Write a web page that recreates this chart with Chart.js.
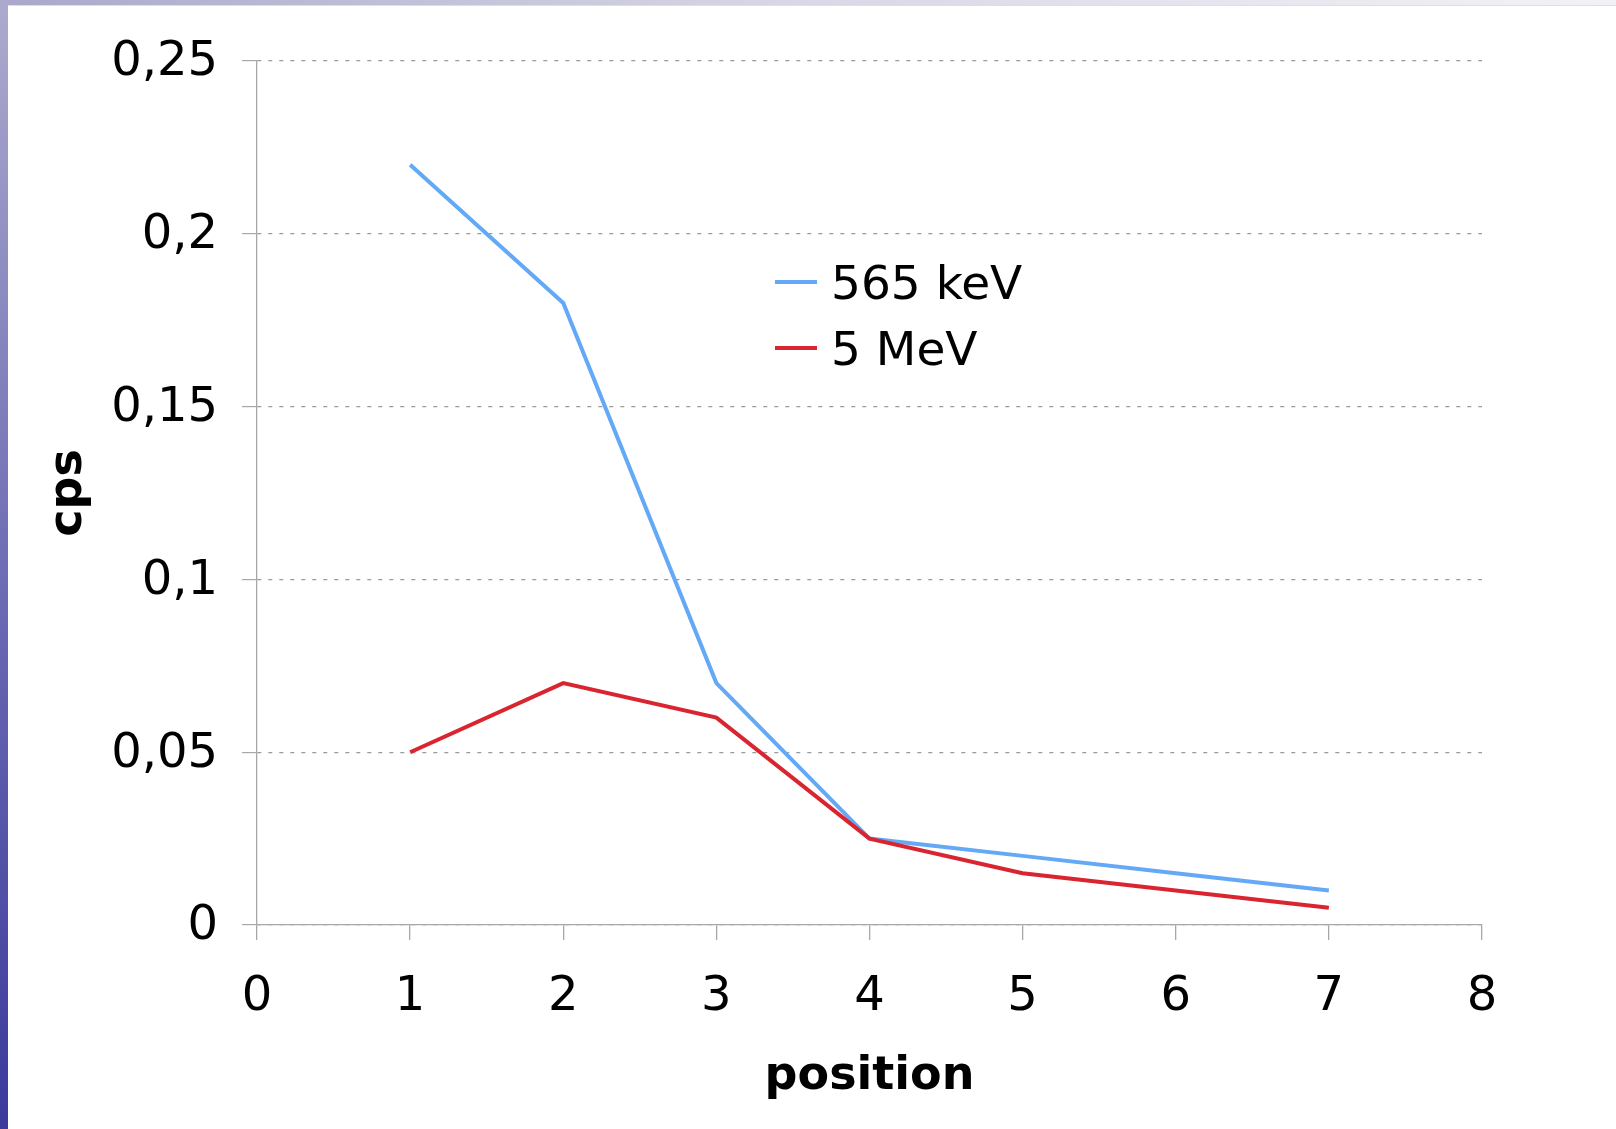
<!DOCTYPE html>
<html>
<head>
<meta charset="utf-8">
<script src="https://cdn.jsdelivr.net/npm/chart.js@4.4.1/dist/chart.umd.min.js"></script>
<style>
  html, body { margin: 0; padding: 0; background: #fff; }
  #wrap { position: relative; width: 1616px; height: 1129px; overflow: hidden; }
  #topbar { position: absolute; left: 0; top: 0; width: 1616px; height: 5px;
    background: linear-gradient(to right, #a9a8ca, #d8d8e6 50%, #f2f2f6);
    border-bottom: 1px solid #dedee6; }
  #leftbar { position: absolute; left: 0; top: 0; width: 8px; height: 1129px;
    background: linear-gradient(to bottom, #acabcd, #6f6db4 50%, #3b399b); }
  #chart { position: absolute; left: 0; top: 0; }
</style>
</head>
<body>
<div id="wrap">
  <div id="topbar"></div>
  <div id="leftbar"></div>
  <canvas id="chart" width="1616" height="1129"></canvas>
</div>
<script>
// data
var positions = [1, 2, 3, 4, 5, 6, 7];
var cps565keV = [0.22, 0.18, 0.07, 0.025, 0.02, 0.015, 0.01];
var cps5MeV = [0.05, 0.07, 0.06, 0.025, 0.015, 0.01, 0.005];
var seriesNames = ['565 keV', '5 MeV'];
var seriesColors = ['#64a9f6', '#d9252f'];
var yTickLabels = ['0', '0,05', '0,1', '0,15', '0,2', '0,25'];
var xTickLabels = ['0', '1', '2', '3', '4', '5', '6', '7', '8'];

var FONT = '"DejaVu Sans", Verdana, sans-serif';

function toPoints(xs, ys) {
	var out = [];
	for (var i in xs) {
		out.push({x: xs[i], y: ys[i]});
	}
	return out;
}

// legend drawn inside the plot, like the original
var innerLegend = {
	id: 'innerLegend',
	afterDraw: function(chart) {
		var ctx = chart.ctx;
		ctx.save();
		ctx.font = '47px ' + FONT;
		ctx.textBaseline = 'middle';
		ctx.fillStyle = '#000';
		var x0 = 775, rows = [282, 348];
		for (var i = 0; i < seriesNames.length; i++) {
			ctx.strokeStyle = seriesColors[i];
			ctx.lineWidth = 4;
			ctx.beginPath();
			ctx.moveTo(x0, rows[i]);
			ctx.lineTo(x0 + 42, rows[i]);
			ctx.stroke();
			ctx.fillText(seriesNames[i], x0 + 56, rows[i] + 5);
		}
		ctx.restore();
	}
};

var ctx = document.getElementById('chart');
var myChart = new Chart(ctx, {
	type: 'line',
	data: {
		datasets: [{
			label: seriesNames[0],
			data: toPoints(positions, cps565keV),
			borderColor: seriesColors[0],
			borderWidth: 4,
			pointRadius: 0,
			tension: 0,
			order: 1
		}, {
			label: seriesNames[1],
			data: toPoints(positions, cps5MeV),
			borderColor: seriesColors[1],
			borderWidth: 4,
			pointRadius: 0,
			tension: 0,
			order: 0
		}]
	},
	options: {
		responsive: false,
		animation: false,
		layout: { padding: { left: 0, top: 61, right: 134, bottom: 0 } },
		plugins: {
			legend: { display: false },
			tooltip: { enabled: false }
		},
		scales: {
			x: {
				type: 'linear',
				min: 0,
				max: 8,
				afterFit: function(scale) { scale.height = 204; },
				ticks: {
					stepSize: 1,
					padding: 29,
					color: '#000',
					font: { family: FONT, size: 48 },
					callback: function(v) { return xTickLabels[v]; }
				},
				grid: { drawOnChartArea: false, tickLength: 15, tickColor: '#a8a8a8', lineWidth: 1.3 },
				border: { color: '#a8a8a8', width: 1.3 },
				title: {
					display: true,
					text: 'position',
					color: '#000',
					font: { family: FONT, size: 46, weight: 'bold' },
					padding: { top: 0, bottom: 24 }
				}
			},
			y: {
				min: 0,
				max: 0.25,
				afterFit: function(scale) { scale.width = 257; },
				ticks: {
					stepSize: 0.05,
					padding: 24,
					labelOffset: 2,
					color: '#000',
					font: { family: FONT, size: 48 },
					callback: function(v) { return yTickLabels[Math.round(v / 0.05)]; }
				},
				grid: { color: '#9a9a9a', lineWidth: 1.2, tickLength: 15, tickColor: '#a8a8a8', tickBorderDash: [] },
				border: { color: '#a8a8a8', width: 1.3, dash: [4, 7] },
				title: {
					display: true,
					text: 'cps',
					color: '#000',
					font: { family: FONT, size: 46, weight: 'bold' },
					padding: { top: 41, bottom: 0 }
				}
			}
		}
	},
	plugins: [innerLegend]
});
</script>
</body>
</html>
